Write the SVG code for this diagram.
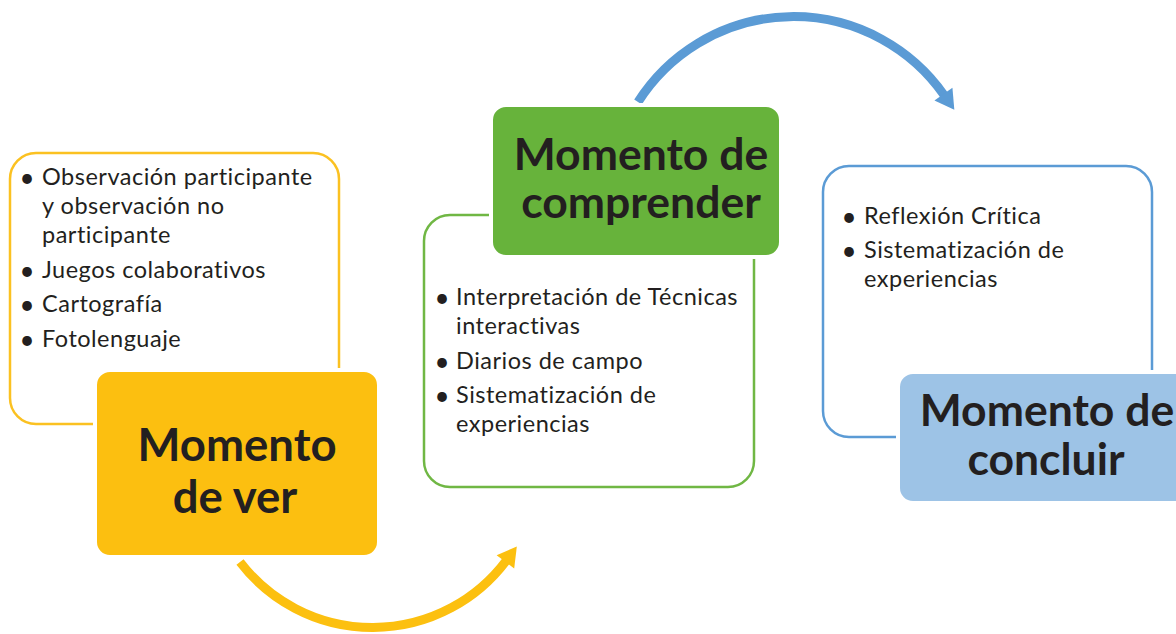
<svg xmlns="http://www.w3.org/2000/svg" width="1176" height="634" viewBox="0 0 1176 634">
<defs>
<style>
.bg{fill:#ffffff}
.item{font-family:Lato,"Open Sans","Liberation Sans",sans-serif;font-size:23.5px;letter-spacing:0.5px;fill:#231f20}
.dot{font-family:Lato,"Liberation Sans",sans-serif;font-size:26px;fill:#231f20;text-anchor:middle}
.title{font-family:Lato,"Liberation Sans",sans-serif;font-weight:bold;font-size:44.5px;fill:#231f20;text-anchor:middle}
.outline{fill:#ffffff;stroke-width:2.5}
.fillbox{stroke:#ffffff;stroke-width:4}
.arc{fill:none;stroke-width:9}
</style>
<marker id="headY" markerUnits="userSpaceOnUse" markerWidth="20" markerHeight="24" refX="1" refY="12" orient="auto" overflow="visible">
<path d="M0,1 L19,12 L0,23 z" fill="#fcc010"/>
</marker>
<marker id="headB" markerUnits="userSpaceOnUse" markerWidth="20" markerHeight="24" refX="1" refY="12" orient="auto" overflow="visible">
<path d="M0,1 L19,12 L0,23 z" fill="#5b9bd5"/>
</marker>
</defs>
<rect class="bg" x="0" y="0" width="1176" height="634"/>

<g id="connectors">
<path class="arc" d="M240,562 A167,167 0 0 0 506,561" stroke="#fcc010" marker-end="url(#headY)"/>
<path class="arc" d="M638,102 A184,184 0 0 1 944,95" stroke="#5b9bd5" marker-end="url(#headB)"/>
</g>

<g id="ver-list">
<rect class="outline" x="10" y="153" width="329" height="271" rx="26" stroke="#fbc121"/>
<text class="dot" x="27" y="187">•</text>
<text class="item" x="42" y="185">Observación participante</text>
<text class="item" x="42" y="214">y observación no</text>
<text class="item" x="42" y="243">participante</text>
<text class="dot" x="27" y="280">•</text>
<text class="item" x="42" y="278">Juegos colaborativos</text>
<text class="dot" x="27" y="314">•</text>
<text class="item" x="42" y="312">Cartografía</text>
<text class="dot" x="27" y="349">•</text>
<text class="item" x="42" y="347">Fotolenguaje</text>
</g>
<g id="ver">
<rect class="fillbox" x="95" y="370" width="284" height="187" rx="15" fill="#fcbf10"/>
<text class="title" x="237" y="461" style="font-size:45.5px">Momento</text>
<text class="title" x="235" y="513" style="font-size:45.5px">de ver</text>
</g>

<g id="comprender-list">
<rect class="outline" x="424" y="215" width="330" height="272" rx="26" stroke="#70b744"/>
<text class="dot" x="442" y="307">•</text>
<text class="item" x="456" y="305">Interpretación de Técnicas</text>
<text class="item" x="456" y="334">interactivas</text>
<text class="dot" x="442" y="371">•</text>
<text class="item" x="456" y="369">Diarios de campo</text>
<text class="dot" x="442" y="405">•</text>
<text class="item" x="456" y="403">Sistematización de</text>
<text class="item" x="456" y="432">experiencias</text>
</g>
<g id="comprender">
<rect class="fillbox" x="491" y="105" width="290" height="152" rx="15" fill="#67b33b"/>
<text class="title" x="641" y="170">Momento de</text>
<text class="title" x="641" y="218">comprender</text>
</g>

<g id="concluir-list">
<rect class="outline" x="823" y="166" width="329" height="271" rx="26" stroke="#5b9bd5"/>
<text class="dot" x="849" y="226">•</text>
<text class="item" x="864" y="224">Reflexión Crítica</text>
<text class="dot" x="849" y="260">•</text>
<text class="item" x="864" y="258">Sistematización de</text>
<text class="item" x="864" y="287">experiencias</text>
</g>
<g id="concluir">
<rect class="fillbox" x="898" y="372" width="294" height="131" rx="15" fill="#9dc3e6"/>
<text class="title" x="1047" y="426">Momento de</text>
<text class="title" x="1046" y="475">concluir</text>
</g>
</svg>
